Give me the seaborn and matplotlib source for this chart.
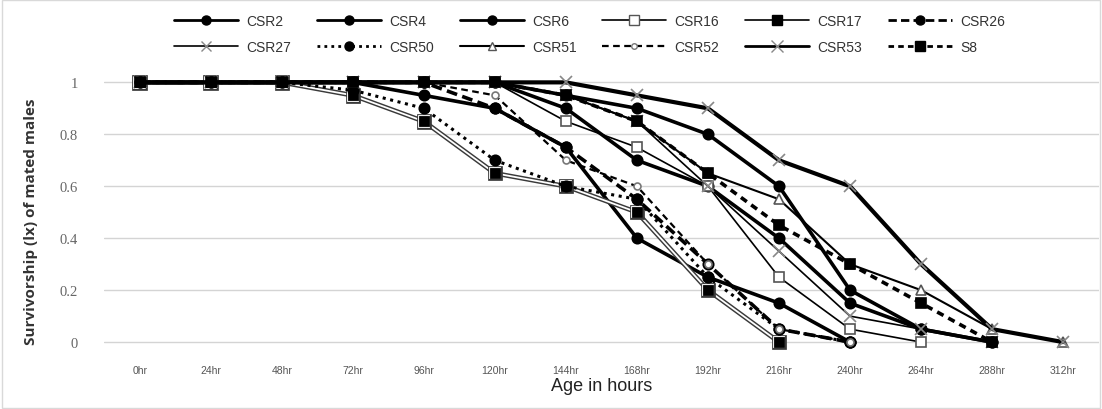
import matplotlib
matplotlib.use("Agg")
import matplotlib.pyplot as plt
import matplotlib.patheffects as pe
from matplotlib.lines import Line2D
import seaborn as sns
import numpy as np
import pandas as pd

# age in hours (x) and survivorship per strain
hours = [0, 24, 48, 72, 96, 120, 144, 168, 192, 216, 240, 264, 288, 312]
hour_labels = ["{0}hr".format(h) for h in hours]

CSR2 = [1, 1, 1, 1, 0.95, 0.9, 0.75, 0.4, 0.25, 0.15, 0]
CSR4 = [1, 1, 1, 1, 1, 1, 0.95, 0.9, 0.8, 0.6, 0.2, 0.05, 0]
CSR6 = [1, 1, 1, 1, 1, 1, 0.9, 0.7, 0.6, 0.4, 0.15, 0.05, 0]
CSR16 = [1, 1, 1, 1, 1, 1, 0.85, 0.75, 0.6, 0.25, 0.05, 0]
CSR17 = [1, 1, 1, 0.95, 0.85, 0.65, 0.6, 0.5, 0.2, 0]
CSR26 = [1, 1, 1, 1, 1, 0.9, 0.75, 0.55, 0.3, 0.05, 0]
CSR27 = [1, 1, 1, 1, 1, 1, 0.95, 0.85, 0.6, 0.35, 0.1, 0.05, 0]
CSR50 = [1, 1, 1, 0.97, 0.9, 0.7, 0.6, 0.55, 0.25, 0.05, 0]
CSR51 = [1, 1, 1, 1, 1, 1, 0.95, 0.85, 0.65, 0.55, 0.3, 0.2, 0.05, 0]
CSR52 = [1, 1, 1, 1, 1, 0.95, 0.7, 0.6, 0.3, 0.05, 0]
CSR53 = [1, 1, 1, 1, 1, 1, 1, 0.95, 0.9, 0.7, 0.6, 0.3, 0.05, 0]
S8 = [1, 1, 1, 1, 1, 1, 0.95, 0.85, 0.65, 0.45, 0.3, 0.15, 0]

series = {
    "CSR2": CSR2, "CSR4": CSR4, "CSR6": CSR6, "CSR16": CSR16,
    "CSR17": CSR17, "CSR26": CSR26, "CSR27": CSR27, "CSR50": CSR50,
    "CSR51": CSR51, "CSR52": CSR52, "CSR53": CSR53, "S8": S8,
}

# line / marker look of each strain (Excel-like black & white)
styles = {
    "CSR2": dict(ls="-", lw=2.6, marker="o", ms=7.5, mfc="black", mec="black"),
    "CSR4": dict(ls="-", lw=2.6, marker="o", ms=7.5, mfc="black", mec="black"),
    "CSR6": dict(ls="-", lw=2.6, marker="o", ms=7.5, mfc="black", mec="black"),
    "CSR16": dict(ls="-", lw=1.2, marker="s", ms=7.5, mfc="white", mec="#555555"),
    "CSR17": dict(ls="-", lw=1.2, marker="s", ms=7.5, mfc="black", mec="black"),
    "CSR26": dict(ls=(0, (3, 1.5)), lw=2.6, marker="o", ms=7.5, mfc="black", mec="black"),
    "CSR27": dict(ls="-", lw=1.2, marker="x", ms=8, mfc="#888888", mec="#888888"),
    "CSR50": dict(ls=(0, (1, 1.5)), lw=2.2, marker="o", ms=7.5, mfc="black", mec="black"),
    "CSR51": dict(ls="-", lw=1.5, marker="^", ms=7, mfc="white", mec="#555555"),
    "CSR52": dict(ls=(0, (3, 2)), lw=1.6, marker="o", ms=5, mfc="white", mec="#777777"),
    "CSR53": dict(ls="-", lw=3.0, marker="x", ms=9, mfc="#888888", mec="#888888"),
    "S8": dict(ls=(0, (2, 1.5)), lw=2.6, marker="s", ms=7.5, mfc="black", mec="black"),
}

rows = []
for name, vals in series.items():
    for h, v in zip(hours, vals):
        rows.append([name, h, v])
df = pd.DataFrame(rows, columns=["strain", "hours", "lx"])

sns.set_theme(style="white")
fig = plt.figure(figsize=(11.02, 4.10), dpi=100)
ax = fig.add_axes([0.0945, 0.134, 0.9025, 0.707])

for name in series:
    st = styles[name]
    sub = df[df["strain"] == name]
    sns.lineplot(data=sub, x="hours", y="lx", ax=ax, color="black",
                 linestyle=st["ls"], linewidth=st["lw"], marker=st["marker"],
                 markersize=st["ms"], markerfacecolor=st["mfc"],
                 markeredgecolor=st["mec"], markeredgewidth=1.2,
                 legend=False, zorder=3)
    if name == "CSR17":
        # Excel "double" line look
        ax.lines[-1].set_path_effects([
            pe.Stroke(linewidth=3.4, foreground="#3a3a3a"),
            pe.Stroke(linewidth=1.3, foreground="white"),
        ])
        sns.scatterplot(data=sub, x="hours", y="lx", ax=ax, marker="s", s=50,
                        color="black", edgecolor="black", legend=False, zorder=4)

narrow = ["Liberation Sans Narrow", "Liberation Sans", "DejaVu Sans"]

ax.set_xlim(-12, 324)
ax.set_ylim(-0.046, 1.07)
ax.set_xticks(hours)
ax.set_xticklabels(hour_labels, fontsize=7.5, color="#555555", family=narrow)
ax.set_yticks([0, 0.2, 0.4, 0.6, 0.8, 1.0])
ax.set_yticklabels(["0", "0.2", "0.4", "0.6", "0.8", "1"], fontsize=10.5,
                   color="#666666", family="Liberation Serif")
ax.tick_params(axis="x", length=0, pad=8)
ax.tick_params(axis="y", length=0, pad=19)
ax.grid(axis="y", color="#d4d4d4", linewidth=1)
ax.set_axisbelow(True)
for s in ax.spines.values():
    s.set_visible(False)

ax.set_xlabel("Age in hours", fontsize=13, color="#222222", labelpad=1,
              family=narrow)
ax.set_ylabel("Survivorship (lx) of mated males", fontsize=11, color="#333333",
              fontweight="bold", family="Open Sans")
ax.yaxis.set_label_coords(-0.066, 0.46)

# legend: 6 columns x 2 rows, row-major order as in the original
order = ["CSR2", "CSR27", "CSR4", "CSR50", "CSR6", "CSR51",
         "CSR16", "CSR52", "CSR17", "CSR53", "CSR26", "S8"]
handles = []
for name in order:
    st = styles[name]
    handles.append(Line2D([], [], color="black", linestyle=st["ls"],
                          linewidth=min(st["lw"], 2.0), marker=st["marker"],
                          markersize=st["ms"] - 1, markerfacecolor=st["mfc"],
                          markeredgecolor=st["mec"], label=name))
leg = fig.legend(handles=handles, loc="upper center", ncol=6,
                 bbox_to_anchor=(0.535, 0.995), frameon=False, handlelength=4.6,
                 columnspacing=1.85, handletextpad=0.6, labelspacing=0.9,
                 prop={"family": narrow, "size": 10})
for t in leg.get_texts():
    t.set_color("#333333")

# light outer frame of the chart area
fig.patches.append(plt.Rectangle((0.002, 0.003), 0.996, 0.994, transform=fig.transFigure,
                                 fill=False, edgecolor="#d9d9d9", linewidth=1))

fig.savefig("out.png", dpi=100)
